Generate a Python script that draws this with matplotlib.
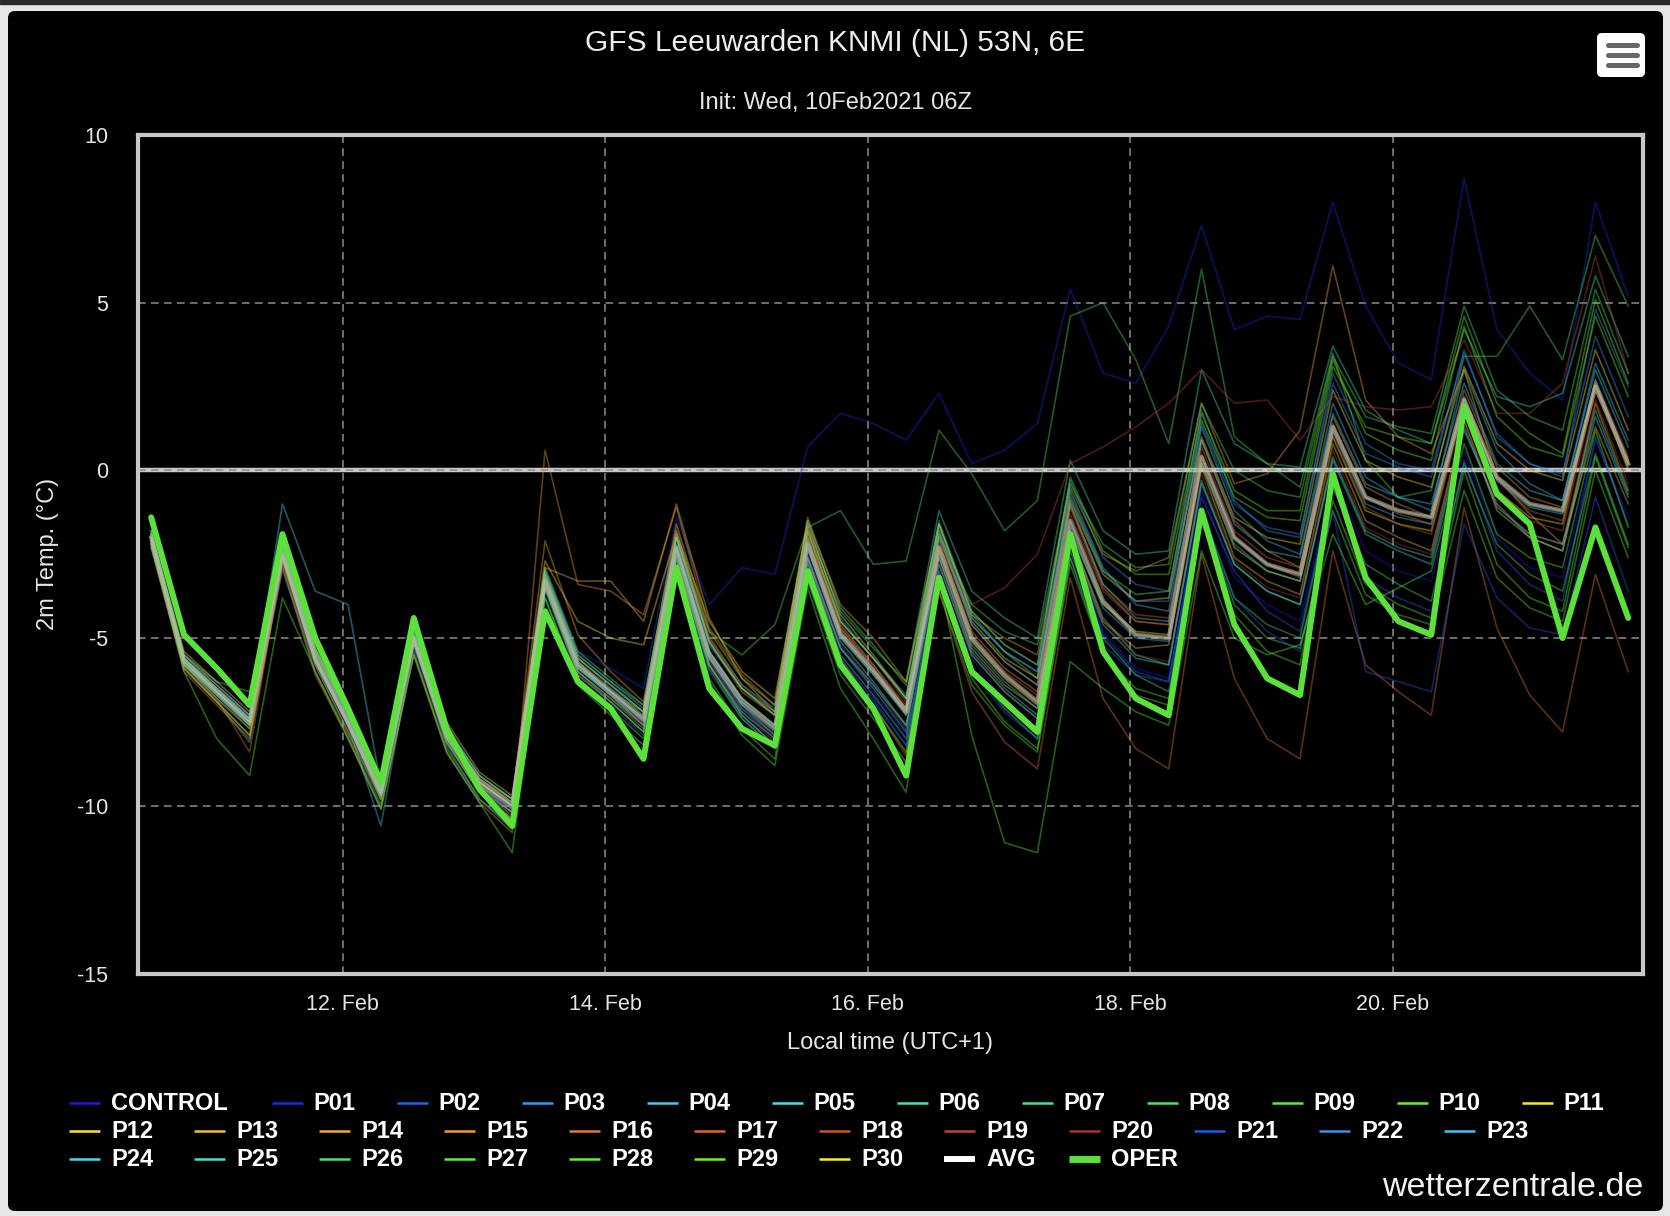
import pandas as pd
import matplotlib
matplotlib.use('Agg')
import matplotlib.pyplot as plt
from matplotlib.patches import FancyBboxPatch, Rectangle

plt.rcParams['font.family'] = ['Liberation Sans', 'DejaVu Sans']
plt.rcParams['axes.unicode_minus'] = False

W, H = 1670, 1216

# 6-hourly forecast steps, local time (UTC+1)
times = pd.date_range('2021-02-10 13:00', periods=46, freq='6h')

oper = [-1.4, -4.9, -5.9, -7.0, -1.9, -5.0, -7.1, -9.3, -4.4, -7.7, -9.5, -10.6,
        -4.2, -6.3, -7.1, -8.6, -2.9, -6.5, -7.7, -8.2, -3.0, -5.8, -7.1, -9.1,
        -3.2, -6.0, -6.9, -7.8, -1.9, -5.4, -6.8, -7.3, -1.2, -4.6, -6.2, -6.7,
        -0.1, -3.2, -4.5, -4.9, 1.9, -0.7, -1.6, -5.0, -1.7, -4.4]

avg = [-2.0, -5.7, -6.6, -7.5, -2.5, -5.6, -7.5, -9.6, -5.0, -7.9, -9.3, -10.0,
       -3.3, -5.8, -6.6, -7.4, -2.3, -5.5, -6.9, -7.7, -2.2, -4.9, -6.0, -7.2,
       -2.3, -5.0, -6.1, -6.9, -1.5, -3.9, -4.9, -5.0, 0.4, -2.0, -2.8, -3.1,
       1.3, -0.8, -1.2, -1.4, 2.1, -0.2, -1.0, -1.2, 2.5, 0.2]

control = [-1.9, -5.6, -6.4, -7.3, -2.3, -5.4, -7.3, -9.5, -4.8, -7.7, -9.2, -9.9, -3.0, -5.6, -6.5, -7.2, -2.0, -5.3, -6.8, -7.6, -2.4, -5.3, -6.6, -7.9, -2.8, -5.6, -6.9, -7.7, -2.0, -4.8, -5.9, -6.2, -0.6, -3.2, -4.0, -4.5, -0.2, -2.4, -3.0, -3.3, 0.6, -2.0, -2.9, -3.2, 0.9, -1.4]
p01 = [-2.2, -5.9, -6.8, -7.6, -2.6, -5.8, -7.7, -9.8, -5.3, -8.0, -9.4, -10.1, -3.0, -5.4, -5.9, -6.5, -1.4, -4.0, -2.9, -3.1, 0.7, 1.7, 1.4, 0.9, 2.3, 0.2, 0.6, 1.4, 5.4, 2.9, 2.6, 4.3, 7.3, 4.2, 4.6, 4.5, 8.0, 4.9, 3.2, 2.7, 8.7, 4.2, 2.9, 2.1, 8.0, 5.2]
p02 = [-2.1, -5.8, -6.7, -7.7, -3.0, -5.8, -7.8, -9.9, -5.2, -8.1, -9.6, -10.4, -3.6, -6.2, -7.0, -7.9, -2.8, -6.0, -7.4, -8.3, -3.0, -5.7, -6.9, -8.2, -3.3, -6.0, -7.2, -8.0, -2.6, -5.2, -6.1, -6.3, -0.8, -3.0, -4.2, -4.8, -0.4, -3.2, -3.8, -4.2, 0.3, -2.4, -3.4, -3.9, 1.0, -1.6]
p03 = [-1.8, -5.5, -6.5, -7.3, -2.2, -5.3, -7.2, -9.3, -4.7, -7.6, -9.1, -9.8, -3.0, -5.5, -6.3, -7.0, -1.8, -5.0, -6.4, -7.1, -1.5, -4.4, -5.6, -6.7, -1.5, -4.2, -5.2, -5.8, -0.3, -2.6, -3.4, -3.6, 1.8, -0.9, -1.8, -2.0, 2.9, 0.8, 0.2, 0.0, 3.5, 1.1, 0.2, -0.2, 4.8, 2.5]
p04 = [-2.0, -5.9, -6.9, -8.1, -2.6, -5.7, -7.6, -10.6, -5.1, -8.2, -9.8, -10.7, -3.5, -6.0, -6.9, -7.8, -2.5, -5.8, -7.3, -8.2, -2.6, -5.3, -6.5, -7.8, -2.0, -4.4, -5.4, -6.0, -0.6, -2.9, -4.0, -4.2, 1.3, -1.2, -2.1, -2.5, 2.0, -0.2, -0.8, -1.2, 3.0, 0.6, -0.4, -0.9, 3.2, 0.9]
p05 = [-2.3, -5.8, -6.6, -7.4, -1.0, -3.6, -4.0, -9.4, -5.0, -7.9, -9.4, -10.2, -3.4, -5.9, -6.7, -7.6, -2.4, -5.6, -7.0, -7.9, -2.3, -5.1, -6.3, -7.6, -2.6, -5.4, -6.5, -7.3, -1.9, -4.4, -5.5, -5.8, -0.4, -2.8, -3.6, -4.0, 0.3, -1.9, -2.4, -2.8, 1.2, -1.0, -2.0, -2.4, 1.6, -0.8]
p06 = [-1.9, -5.6, -6.5, -7.4, -2.3, -5.5, -7.4, -9.5, -4.9, -7.8, -9.2, -9.9, -3.1, -5.6, -6.4, -7.2, -2.0, -5.2, -6.5, -7.3, -1.7, -4.2, -5.3, -6.3, -1.2, -3.6, -4.4, -5.0, 0.3, -1.8, -2.5, -2.4, 3.0, 0.8, 0.2, 0.1, 3.7, 1.8, 1.2, 0.8, 4.2, 2.2, 1.9, 2.3, 5.8, 3.4]
p07 = [-2.1, -5.7, -6.7, -7.6, -2.2, -5.4, -7.2, -9.4, -5.2, -8.0, -9.5, -10.3, -3.2, -5.8, -6.7, -7.6, -2.6, -5.8, -7.3, -8.2, -2.7, -5.5, -6.7, -8.0, -3.0, -5.9, -7.1, -8.0, -2.4, -5.0, -6.1, -6.6, -1.2, -3.8, -4.6, -5.0, -0.5, -2.8, -3.4, -3.9, 0.2, -2.2, -3.1, -3.6, 0.5, -2.2]
p08 = [-2.0, -5.6, -6.6, -7.5, -2.4, -5.6, -7.5, -9.6, -5.1, -7.9, -9.3, -10.0, -3.3, -5.9, -6.6, -7.2, -2.0, -4.8, -5.5, -4.6, -1.7, -1.2, -2.8, -2.7, 1.2, -0.1, -1.8, -0.9, 4.6, 5.0, 3.3, 0.8, 6.0, 1.0, 0.2, -0.5, 3.5, 0.3, -0.8, -0.6, 3.4, 3.4, 4.9, 3.3, 7.0, 4.9]
p09 = [-2.2, -5.9, -6.9, -7.9, -2.8, -6.0, -7.9, -10.0, -5.4, -8.3, -9.8, -10.6, -3.8, -6.3, -7.1, -8.0, -2.9, -6.2, -7.7, -8.6, -3.3, -6.1, -7.4, -8.7, -3.6, -6.4, -7.6, -8.4, -2.8, -5.5, -6.5, -6.8, -1.3, -4.0, -5.0, -5.3, -1.2, -3.7, -4.3, -4.6, -0.6, -3.2, -4.1, -4.5, 0.0, -2.6]
p10 = [-1.9, -5.5, -6.3, -6.6, -2.1, -5.3, -7.3, -9.4, -4.7, -7.7, -9.1, -9.8, -2.9, -5.4, -6.2, -7.0, -1.6, -4.8, -6.2, -7.0, -1.4, -4.1, -5.2, -6.4, -1.6, -4.3, -5.4, -6.2, -0.8, -3.0, -3.7, -3.6, 1.5, -0.8, -1.4, -1.5, 3.1, 1.3, 1.0, 0.8, 4.6, 2.0, 1.1, 0.5, 5.1, 2.6]
p11 = [-2.1, -5.6, -6.5, -7.4, -2.6, -5.6, -7.5, -9.6, -5.0, -7.9, -9.2, -9.9, -3.2, -5.7, -6.6, -7.5, -2.3, -5.4, -6.8, -7.6, -2.0, -4.8, -5.9, -7.1, -2.4, -5.1, -6.2, -7.0, -1.8, -4.0, -4.8, -4.9, 0.2, -2.3, -3.0, -3.3, 1.0, -1.2, -1.6, -1.8, 2.0, -0.6, -1.4, -1.6, 2.6, 0.0]
p12 = [-1.8, -5.4, -6.3, -7.2, -2.2, -5.3, -7.2, -9.3, -4.6, -7.5, -9.0, -9.7, -2.7, -4.5, -5.0, -5.2, -1.9, -4.5, -6.0, -6.8, -1.6, -4.3, -5.5, -6.8, -1.8, -4.5, -5.6, -6.2, -0.9, -3.1, -3.9, -3.8, 1.0, -1.4, -2.0, -2.2, 2.4, 0.3, -0.2, -0.5, 3.1, 0.8, 0.0, -0.3, 3.6, 1.2]
p13 = [-2.2, -5.9, -6.9, -7.9, -2.7, -5.8, -7.8, -9.8, -5.1, -8.1, -9.6, -10.4, -2.9, -3.3, -3.3, -4.5, -1.0, -4.4, -6.2, -7.2, -1.9, -4.6, -5.8, -7.1, -2.6, -5.3, -6.4, -7.1, -1.9, -4.5, -5.3, -5.2, 0.1, -2.6, -3.3, -3.7, 0.8, -1.5, -2.0, -2.4, 1.5, -1.2, -2.0, -2.4, 2.0, -0.6]
p14 = [-1.9, -5.6, -6.6, -7.6, -2.4, -5.6, -7.6, -9.7, -5.0, -7.8, -9.2, -9.8, -2.1, -4.9, -6.0, -6.9, -1.8, -5.1, -6.6, -7.3, -1.5, -4.0, -5.0, -6.3, -1.6, -4.3, -5.0, -5.5, -0.5, -2.5, -3.0, -2.6, 2.0, -0.4, -0.1, 1.2, 6.1, 2.1, 1.0, 0.5, 3.0, -0.2, -1.3, -2.2, 1.3, -1.0]
p15 = [-2.3, -6.0, -7.0, -8.0, -2.9, -6.1, -8.0, -10.1, -5.5, -8.4, -9.9, -10.8, 0.6, -3.4, -3.6, -4.3, -1.1, -4.7, -6.1, -7.0, -2.0, -4.7, -5.9, -7.3, -2.1, -4.8, -5.9, -6.6, -1.1, -3.5, -4.5, -4.6, 0.9, -1.5, -2.4, -2.9, 1.6, -0.5, -1.0, -1.4, 2.4, 0.1, -0.8, -1.1, 2.6, 0.3]
p16 = [-2.0, -5.8, -6.8, -8.4, -2.6, -5.7, -7.6, -9.7, -5.0, -7.9, -9.4, -10.1, -3.4, -6.0, -6.8, -7.6, -2.5, -5.7, -7.1, -7.9, -2.6, -5.6, -7.0, -8.5, -3.6, -6.6, -8.1, -8.9, -3.2, -6.8, -8.3, -8.9, -2.5, -6.2, -8.0, -8.6, -2.4, -5.8, -6.6, -7.3, -1.1, -4.7, -6.7, -7.8, -3.1, -6.0]
p17 = [-1.9, -5.5, -6.4, -7.3, -2.3, -5.4, -7.3, -9.5, -4.8, -7.7, -9.2, -9.9, -3.1, -5.6, -6.4, -7.2, -1.9, -5.0, -6.4, -7.2, -1.7, -4.5, -5.6, -6.9, -2.0, -4.6, -5.7, -6.4, -1.0, -3.4, -4.3, -4.4, 0.7, -1.8, -2.6, -2.9, 1.4, -0.8, -1.3, -1.6, 2.2, -0.3, -1.2, -1.5, 2.7, 0.4]
p18 = [-2.1, -5.8, -6.7, -7.6, -2.5, -5.6, -7.5, -9.6, -5.0, -7.9, -9.4, -10.2, -3.4, -5.9, -6.7, -7.6, -2.3, -5.4, -6.8, -7.6, -2.0, -4.7, -5.8, -7.0, -2.2, -4.9, -6.0, -6.7, -1.3, -3.6, -4.5, -4.6, 0.5, -2.0, -2.8, -3.2, 1.1, -1.1, -1.6, -1.9, 1.9, -0.6, -1.5, -1.8, 2.4, 0.1]
p19 = [-2.0, -5.7, -6.6, -7.4, -2.5, -5.6, -7.6, -9.7, -5.1, -8.0, -9.5, -10.2, -3.2, -5.7, -6.6, -7.4, -1.6, -4.9, -6.5, -7.3, -1.8, -4.7, -5.9, -7.2, -2.3, -4.0, -3.5, -2.5, 0.2, 0.7, 1.3, 2.0, 3.0, 2.0, 2.1, 0.9, 2.2, 1.9, 1.8, 1.9, 3.9, 1.7, 1.7, 2.6, 6.4, 2.9]
p20 = [-2.2, -5.9, -6.8, -7.7, -2.7, -5.8, -7.7, -9.8, -5.2, -8.1, -9.6, -10.3, -3.5, -6.1, -6.9, -7.8, -2.6, -5.8, -7.2, -8.1, -2.5, -5.2, -6.4, -7.7, -2.7, -5.5, -6.6, -7.4, -2.0, -4.5, -5.5, -5.7, -0.1, -2.7, -3.5, -3.8, 0.6, -1.7, -2.2, -2.5, 1.5, -1.0, -1.9, -2.2, 2.1, -0.4]
p21 = [-1.9, -5.6, -6.5, -7.4, -2.4, -5.5, -7.4, -9.5, -4.9, -7.8, -9.3, -10.0, -3.3, -5.8, -6.6, -7.5, -2.4, -5.6, -7.1, -8.0, -2.7, -5.6, -6.8, -8.2, -3.1, -5.9, -7.0, -7.7, -2.2, -4.9, -6.0, -6.3, -1.1, -3.8, -4.8, -5.4, -1.2, -6.0, -6.3, -6.6, -1.6, -3.8, -4.7, -4.9, -0.8, -3.6]
p22 = [-2.0, -5.7, -6.6, -7.5, -2.5, -5.6, -7.5, -9.6, -5.0, -7.9, -9.3, -10.0, -3.2, -5.8, -6.6, -7.4, -2.2, -5.4, -6.8, -7.6, -2.1, -4.8, -5.9, -7.1, -1.7, -4.4, -5.4, -6.0, -0.7, -3.0, -3.9, -3.9, 1.4, -1.0, -1.7, -1.9, 2.6, 0.5, 0.1, -0.2, 3.6, 1.0, 0.2, -0.1, 4.0, 1.6]
p23 = [-2.1, -5.7, -6.6, -7.5, -2.6, -5.7, -7.6, -9.7, -5.1, -8.0, -9.4, -10.1, -3.4, -5.9, -6.7, -7.5, -2.4, -5.6, -7.0, -7.8, -2.3, -5.0, -6.1, -7.3, -2.5, -5.2, -6.3, -7.1, -1.7, -4.1, -5.0, -5.1, 0.2, -2.2, -3.0, -3.3, 1.2, -1.0, -1.4, -1.6, 2.2, -0.3, -1.1, -1.3, 2.7, 0.2]
p24 = [-1.8, -5.5, -6.4, -7.3, -2.3, -5.4, -7.3, -9.4, -4.8, -7.7, -9.1, -9.8, -3.0, -5.5, -6.3, -7.1, -2.0, -5.1, -6.5, -7.2, -1.8, -4.5, -5.6, -6.8, -1.9, -4.6, -5.7, -6.4, -1.0, -3.4, -4.4, -4.5, 0.9, -1.6, -2.4, -2.6, 1.7, -0.4, -0.8, -1.0, 2.6, 0.2, -0.6, -0.9, 3.0, 0.7]
p25 = [-2.2, -5.8, -6.7, -7.6, -2.5, -5.7, -7.6, -9.7, -5.1, -8.0, -9.5, -10.2, -3.5, -6.0, -6.8, -7.7, -2.6, -5.8, -7.2, -8.0, -2.6, -5.3, -6.4, -7.6, -2.8, -5.5, -6.6, -7.4, -2.1, -4.6, -5.6, -5.8, -0.3, -2.8, -3.6, -4.0, 0.4, -1.8, -2.3, -2.6, 1.3, -1.1, -1.9, -2.2, 1.8, -0.7]
p26 = [-1.9, -5.6, -6.6, -7.5, -2.4, -5.5, -7.4, -9.5, -4.9, -7.8, -9.3, -10.0, -3.2, -5.7, -6.5, -7.3, -2.2, -5.4, -6.8, -7.6, -2.1, -4.9, -6.0, -7.2, -1.9, -4.0, -4.8, -5.2, -0.4, -2.2, -2.9, -2.8, 2.0, 0.0, -0.6, -0.8, 3.4, 1.6, 1.3, 1.1, 4.9, 2.4, 1.6, 1.2, 5.4, 2.9]
p27 = [-2.2, -6.0, -8.0, -9.1, -3.8, -6.0, -8.0, -10.1, -5.5, -8.4, -9.9, -11.4, -3.8, -6.4, -7.3, -8.2, -3.0, -6.3, -7.9, -8.8, -3.5, -6.5, -8.0, -9.6, -3.2, -7.9, -11.1, -11.4, -5.7, -6.5, -7.2, -7.6, -2.4, -5.0, -5.5, -5.2, -1.9, -4.0, -3.5, -3.0, 0.8, -1.9, -2.6, -2.9, 1.2, -1.7]
p28 = [-2.0, -5.8, -6.8, -7.7, -2.6, -5.7, -7.6, -9.8, -5.1, -8.1, -9.6, -10.4, -3.5, -6.1, -6.9, -7.8, -2.7, -5.9, -7.4, -8.3, -2.8, -5.7, -7.0, -8.4, -3.2, -6.2, -7.5, -8.3, -2.6, -5.5, -6.7, -7.0, -1.5, -4.3, -5.4, -5.8, -0.9, -3.4, -4.0, -4.4, 0.0, -2.8, -3.8, -4.2, 0.4, -2.3]
p29 = [-1.9, -5.6, -6.5, -7.4, -2.3, -5.4, -7.3, -9.5, -4.9, -7.8, -9.3, -10.0, -3.1, -5.6, -6.4, -7.2, -2.0, -5.1, -6.5, -7.3, -1.8, -4.5, -5.6, -6.8, -1.6, -4.2, -5.2, -5.8, -0.2, -2.4, -3.1, -3.1, 1.7, -0.6, -1.2, -1.2, 3.3, 1.1, 0.6, 0.3, 4.3, 1.6, 0.7, 0.4, 4.6, 2.2]
p30 = [-2.0, -5.7, -6.6, -7.5, -2.5, -5.6, -7.5, -9.6, -5.0, -7.9, -9.3, -10.0, -3.3, -5.8, -6.6, -7.4, -2.3, -5.5, -6.9, -7.7, -2.2, -4.9, -6.0, -7.2, -2.3, -5.0, -6.1, -6.9, -1.5, -3.9, -4.9, -5.0, 0.4, -2.0, -2.8, -3.1, 1.3, -0.8, -1.2, -1.4, 2.1, -0.2, -1.0, -1.2, 2.5, 0.2]

members = [control, p01, p02, p03, p04, p05, p06, p07, p08, p09, p10,
           p11, p12, p13, p14, p15, p16, p17, p18, p19, p20,
           p21, p22, p23, p24, p25, p26, p27, p28, p29, p30]
member_names = ['CONTROL'] + ['P%02d' % i for i in range(1, 31)]
member_colors = ['#3010e0', '#1030f0', '#2060f0', '#3898f0', '#48c8f0', '#48e0e8',
                 '#48e0b0', '#48e090', '#50e060', '#60e840', '#70f030',
                 '#f0f020', '#f8e040', '#f0c040', '#f0a838', '#f09838', '#e07830',
                 '#e06030', '#d05030', '#c04030', '#b03028',
                 '#2058f0', '#3890f0', '#48c0f0', '#48d8f0', '#48e0b8', '#50e070',
                 '#58f040', '#68f030', '#78f020', '#f8f020']
oper_color = '#5ce03c'

tick_dates = pd.to_datetime(['2021-02-12', '2021-02-14', '2021-02-16', '2021-02-18', '2021-02-20'])
tick_labels = ['12. Feb', '14. Feb', '16. Feb', '18. Feb', '20. Feb']
y_ticks = [-15, -10, -5, 0, 5, 10]

fig = plt.figure(figsize=(16.7, 12.16), dpi=100)
fig.patch.set_facecolor('#e6e6e6')

# background layer in pixel coordinates
bg = fig.add_axes([0, 0, 1, 1])
bg.set_xlim(0, W)
bg.set_ylim(H, 0)
bg.axis('off')
bg.add_patch(Rectangle((0, 0), W, 4, color='#2a2a2a'))
bg.add_patch(FancyBboxPatch((8, 11), 1655, 1200, boxstyle='round,pad=0,rounding_size=7',
                            fc='black', ec='none'))

# menu button
bg.add_patch(FancyBboxPatch((1597, 33), 48, 44, boxstyle='round,pad=0,rounding_size=5',
                            fc='white', ec='none'))
for yb in (45, 55, 65):
    bg.plot([1607.5, 1636.5], [yb, yb], color='#666666', lw=3.6, solid_capstyle='round')

bg.text(835.5, 43, 'GFS Leeuwarden KNMI (NL) 53N, 6E', ha='center', va='center',
        fontsize=21.5, color='#eeeeee')
bg.text(835.5, 103, 'Init: Wed, 10Feb2021 06Z', ha='center', va='center',
        fontsize=17, color='#e6e6e6')
bg.text(890, 1043, 'Local time (UTC+1)', ha='center', va='center', fontsize=17, color='#e6e6e6')
bg.text(48, 554, '2m Temp. (°C)', ha='center', va='center', rotation=90,
        fontsize=17, color='#e6e6e6')
bg.text(1643, 1188, 'wetterzentrale.de', ha='right', va='center', fontsize=24.5, color='#f2f2f2')

# legend
rows_y = [1103, 1131, 1159]
entries = [(n, c, 1.8) for n, c in zip(member_names, member_colors)]
entries += [('AVG', 'white', 4.3), ('OPER', oper_color, 5.0)]
for k, (name, col, lw) in enumerate(entries):
    if k < 12:
        row = 0
        x0 = 69 if k == 0 else 271.6 + 125 * (k - 1)
    else:
        row = 1 if k < 24 else 2
        x0 = 69 + 125 * ((k - 12) % 12)
    y0 = rows_y[row]
    bg.plot([x0, x0 + 31], [y0, y0], color=col, lw=lw, solid_capstyle='butt')
    bg.text(x0 + 42, y0, name, ha='left', va='center', fontsize=17,
            fontweight='bold', color='white')

# plot area
ax = fig.add_axes([137.5 / W, 1 - 973.5 / H, (1643 - 137.5) / W, (973.5 - 135) / H])
ax.set_facecolor('black')
for sp in ax.spines.values():
    sp.set_color('#c8c8c8')
    sp.set_linewidth(3)
    sp.set_zorder(6)

ax.axhline(0, color='#c8c8c8', lw=3.2, zorder=1.4)
for vals, col in zip(members, member_colors):
    ax.plot(times, vals, color=col, lw=1.2, alpha=0.4, zorder=2)
ax.plot(times, avg, color='#b4b4b4', lw=3.2, alpha=0.6, zorder=3, solid_joinstyle='round')
ax.plot(times, oper, color=oper_color, lw=4.3, zorder=4,
        solid_joinstyle='round', solid_capstyle='round')

ax.set_xlim(pd.Timestamp('2021-02-10 10:30'), pd.Timestamp('2021-02-21 21:42'))
ax.set_ylim(-15, 10)
ax.set_xticks(tick_dates)
ax.set_xticklabels(tick_labels)
ax.set_yticks(y_ticks)
ax.set_yticklabels([str(v) for v in y_ticks])
ax.tick_params(axis='both', length=0, colors='#e6e6e6', labelsize=15.5)
ax.tick_params(axis='y', pad=21)
ax.tick_params(axis='x', pad=15)
ax.grid(True, color='#8c8c8c', linewidth=1.1, linestyle=(0, (5, 3.5)))

fig.savefig('out.png', dpi=100, facecolor=fig.get_facecolor())
